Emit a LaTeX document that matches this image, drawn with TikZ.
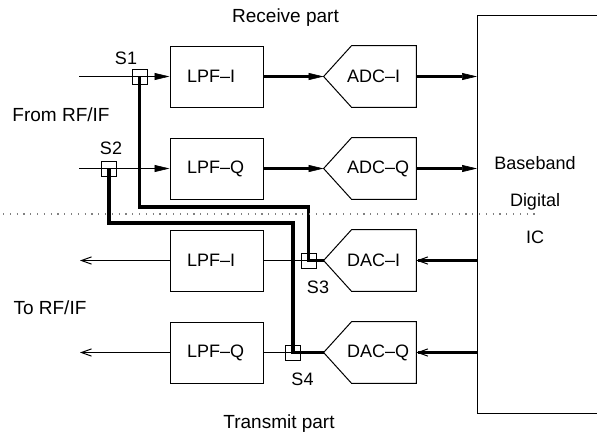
\documentclass[tikz,border=0pt]{standalone}
\usepackage{fontspec}
\setmainfont{Liberation Sans}
\usetikzlibrary{arrows.meta, positioning, calc}

\tikzset{
  blk/.style={draw, line width=0.5pt, minimum width=46.5pt, minimum height=30.5pt,
    inner sep=0pt, text width=29.5pt, align=left},
  conv/.style={minimum width=46pt, minimum height=30.5pt, inner sep=0pt,
    text width=23pt, align=left},
  sw/.style={draw, line width=0.5pt, minimum size=7.5pt, inner sep=0pt},
  lbl/.style={font=\fontsize{9.5}{11}\selectfont},
  thk/.style={line width=1.6pt},
  thn/.style={line width=0.5pt},
  fwd/.style={-{Triangle[length=7.5pt,width=3.5pt,line width=0.3pt]}},
  bwd/.style={-{Straight Barb[length=5pt,width=3.6pt,line width=0.5pt]}},
}

\begin{document}
\begin{tikzpicture}[x=0.5pt, y=-0.5pt, font=\fontsize{9}{11}\selectfont]
    \useasboundingbox (0,0) rectangle (597,440);
    % receive part
    \node[blk] (lpfIr) at (216.5,76.5) {LPF--I};
    \node[blk] (lpfQr) at (216.5,168.5) {LPF--Q};
    \node[conv] (adcI) at (370,76.5) {\mbox{ADC--I}};
    \node[conv] (adcQ) at (370,168.5) {\mbox{ADC--Q}};
    % transmit part
    \node[blk] (lpfIt) at (216.5,260.5) {LPF--I};
    \node[blk] (lpfQt) at (216.5,352.5) {LPF--Q};
    \node[conv] (dacI) at (370,260.5) {\mbox{DAC--I}};
    \node[conv] (dacQ) at (370,352.5) {\mbox{DAC--Q}};
    \foreach \n in {adcI,adcQ,dacI,dacQ} {
        \draw[thn] (\n.west) -- ([xshift=14pt]\n.north west) -- (\n.north east)
          -- (\n.south east) -- ([xshift=14pt]\n.south west) -- cycle;
      }
    % switches
    \node[sw] (s1) at (139.5,76.5) {};
    \node[sw] (s2) at (109,168.5) {};
    \node[sw] (s3) at (308.5,260.5) {};
    \node[sw] (s4) at (293,352.5) {};
    \node (s1l) at (126,58) {S1};
    \node (s2l) at (111,148) {S2};
    \node (s3l) at (318,287) {S3};
    \node (s4l) at (302.5,379) {S4};
    % baseband IC
    \draw[thn] (600,15) -- (477,15) -- (477,413) -- (600,413);
    \coordinate (icL) at (477,0);
    \node[align=center, font=\fontsize{9}{18.5}\selectfont] (ic) at (535,200) {Baseband\\Digital\\IC};
    % in and out
    \coordinate (inI) at (79,76.5);
    \coordinate (inQ) at (79,168.5);
    \coordinate (outI) at (80,260.5);
    \coordinate (outQ) at (80,352.5);
    \draw[thn,fwd] (inI) -- (lpfIr);
    \draw[thn,fwd] (inQ) -- (lpfQr);
    \draw[thn,bwd] (lpfIt) -- (outI);
    \draw[thn,bwd] (lpfQt) -- (outQ);
    \draw[thn] (lpfIt) -- (s3.center);
    \draw[thn] (lpfQt) -- (s4.center);
    % data paths
    \draw[thk,fwd] (lpfIr) -- (adcI.west);
    \draw[thk,fwd] (lpfQr) -- (adcQ.west);
    \draw[thk,fwd] (adcI) -- (adcI -| icL);
    \draw[thk,fwd] (adcQ) -- (adcQ -| icL);
    \draw[thk,bwd] (dacI -| icL) -- (dacI);
    \draw[thk,bwd] (dacQ -| icL) -- (dacQ);
    % loop back
    \draw[thk] (s1.center) -- ++(0,130.5) -| (s3.center) -- (dacI.west);
    \draw[thk] (s2.center) -- ++(0,54.5) -| (s4.center) -- (dacQ.west);
    % separation
    \draw[gray, line width=0.6pt, dash pattern=on 0.6pt off 2.8pt] (3,214) -- (538,214);
    \node[lbl] (rx) at (285.5,18) {Receive part};
    \node[lbl] (tx) at (279,424) {Transmit part};
    \node[lbl] (from) at (61,115) {From RF/IF};
    \node[lbl] (to) at (50,308) {To RF/IF};
  \end{tikzpicture}
\end{document}
